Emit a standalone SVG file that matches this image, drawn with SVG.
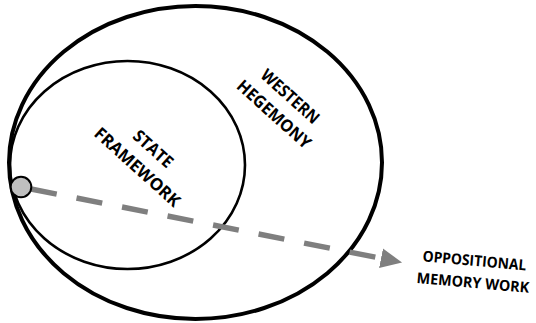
<svg xmlns="http://www.w3.org/2000/svg" width="536" height="323" viewBox="0 0 536 323">
<style>
.ring{fill:none;stroke:#000}
.lbl{font-family:"Open Sans",Lato,"Liberation Sans",sans-serif;font-weight:700;fill:#000;text-anchor:middle}
.dash{fill:none;stroke:#7f7f7f;stroke-width:5.5;stroke-dasharray:26.2 20.2}
</style>
<defs>
<marker id="ah" markerUnits="userSpaceOnUse" markerWidth="22" markerHeight="22" viewBox="0 -10 21 20" refX="0" refY="0" orient="auto">
<path d="M0,-9.5 L20.5,0 L0,9.5 Z" fill="#7f7f7f"/>
</marker>
</defs>
<rect width="536" height="323" fill="#fff"/>
<g id="western-hegemony">
<ellipse class="ring" cx="195.5" cy="162.5" rx="186.5" ry="156.5" stroke-width="4"/>
<text class="lbl" font-size="17" transform="translate(286.3,100.8) rotate(42)" textLength="72" lengthAdjust="spacingAndGlyphs">WESTERN</text>
<text class="lbl" font-size="17" transform="translate(270.1,118.7) rotate(42)" textLength="93" lengthAdjust="spacingAndGlyphs">HEGEMONY</text>
</g>
<g id="state-framework">
<ellipse class="ring" cx="127.5" cy="165" rx="117.5" ry="104" stroke-width="2.6"/>
<text class="lbl" font-size="17" transform="translate(149.3,153.3) rotate(42)" textLength="47" lengthAdjust="spacingAndGlyphs">STATE</text>
<text class="lbl" font-size="17" transform="translate(133.4,171.5) rotate(42)" textLength="109" lengthAdjust="spacingAndGlyphs">FRAMEWORK</text>
</g>
<g id="connectors">
<line class="dash" x1="31" y1="189" x2="381" y2="258.3" marker-end="url(#ah)"/>
</g>
<g id="origin">
<circle cx="21" cy="187" r="10.3" fill="#bfbfbf" stroke="#000" stroke-width="2"/>
</g>
<g id="oppositional-memory-work">
<text class="lbl" font-size="15" transform="translate(474,265.9) rotate(5)" textLength="104" lengthAdjust="spacingAndGlyphs">OPPOSITIONAL</text>
<text class="lbl" font-size="15" transform="translate(472.5,287.9) rotate(5)" textLength="113" lengthAdjust="spacingAndGlyphs">MEMORY WORK</text>
</g>
</svg>
